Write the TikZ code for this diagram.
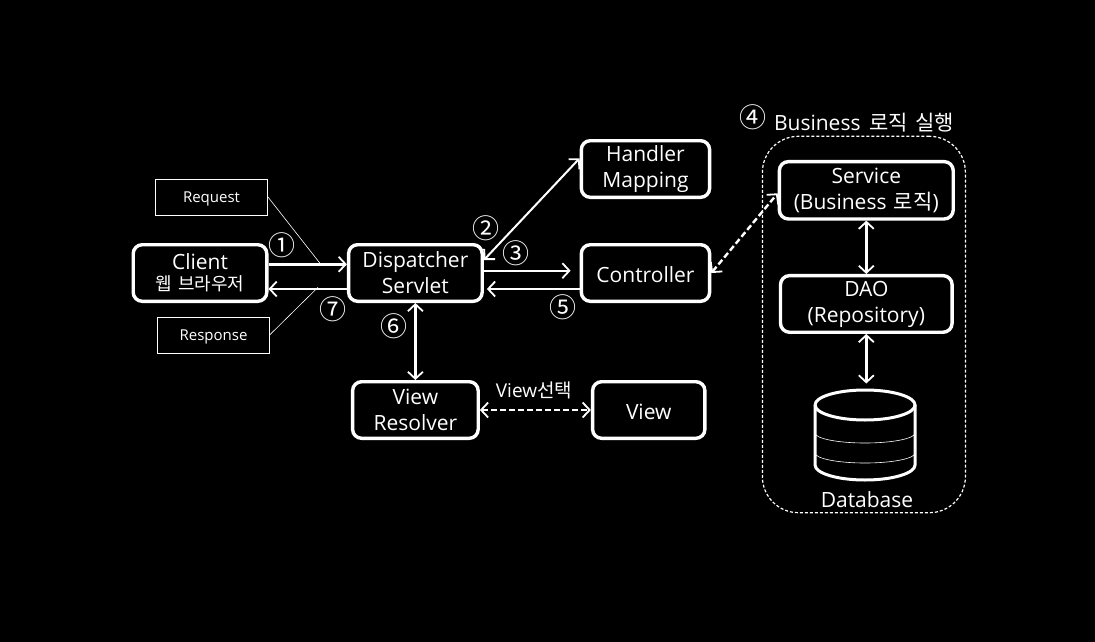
\documentclass[tikz,border=0pt]{standalone}
\usepackage{fontspec}
\setmainfont{Open Sans}
\newfontfamily\cjk{Noto Sans CJK KR}
\usetikzlibrary{positioning,arrows.meta}
\begin{document}
\begin{tikzpicture}[x=1pt,y=1pt,node distance=80pt,every node/.style={font=\fontsize{21}{26}\selectfont,text=white,align=center},
  box/.style={draw=white,line width=3.4pt,rounded corners=9pt,minimum width=133.6pt,minimum height=56.6pt,inner sep=0pt,execute at begin node={\rule{0pt}{20pt}}},
  note/.style={draw=white,line width=.6pt,minimum width=112pt,minimum height=36pt,inner sep=0pt,font=\fontsize{15}{17}\selectfont,execute at begin node={\rule{0pt}{15pt}}},
  num/.style={inner sep=0pt,font=\cjk\fontsize{27}{27}\selectfont},
  link/.style={draw=white,line width=2.4pt,-{Straight Barb[length=7pt,width=15pt,line width=1.8pt]}},
  both/.style={link,{Straight Barb[length=7pt,width=15pt,line width=1.8pt]}-{Straight Barb[length=7pt,width=15pt,line width=1.8pt]}},
  dashline/.style={dash pattern=on 6pt off 3pt},
  dbline/.style={draw=white,line width=3pt},
  thinline/.style={draw=white,line width=.6pt}]
        \fill[black] (0,0) rectangle (1095,-642);
        \useasboundingbox (0,0) rectangle (1095,-642);
        \node[box] (client) at (200,-273) {Client\\[-5pt]{\cjk\fontsize{18}{18}\selectfont 웹\hspace{2pt} 브라우저}};
        \node[box,right=78.4pt of client] (disp) {Dispatcher\\Servlet};
        \node[box,minimum width=128.3pt,right=95.7pt of disp] (ctrl) {Controller};
        \node[box,minimum width=128.3pt,above=44pt of ctrl] (handler) {Handler\\Mapping};
        \node[box,minimum width=125.6pt,below=77pt of disp] (resolver) {View\\Resolver};
        \node[box,minimum width=112.3pt,right=111pt of resolver] (view) {View};
        \node[draw=white,line width=1.2pt,dash pattern=on 3pt off 2pt,rounded corners=36pt,minimum width=203pt,minimum height=376.4pt] (group) at (863.9,-324.5) {};
        \node[box,minimum width=173.9pt,minimum height=57.3pt] (service) at (866.3,-190.3) {Service\\(Business\hspace{2pt} {\cjk 로직})};
        \node[box,minimum width=171.6pt,below=53.3pt of service] (dao) {DAO\\(Repository)};
        \node[minimum width=100pt,minimum height=90pt,inner sep=0pt,outer sep=0pt] (db) at (865,-435.5) {};
        \node (dblabel) at (867,-499.5) {Database};
        \node[note] (request) at (211.5,-196.8) {Request};
        \node[note] (response) at (213.5,-334.8) {Response};
        \node[num] (n1) at (282,-245) {①};
        \node[num] (n2) at (486,-228) {②};
        \node[num] (n3) at (516,-253) {③};
        \node[num] (n4) at (753,-117) {④};
        \node[num] (n5) at (563,-307) {⑤};
        \node[num] (n6) at (394,-326) {⑥};
        \node[num] (n7) at (333,-309) {⑦};
        \node (title) at (864,-122.5) {Business\hspace{3pt} {\cjk 로직\hspace{3pt} 실행}};
        \node[font=\fontsize{19}{20}\selectfont] (pick) at (534,-390) {View{\cjk 선택}};
        \coordinate (reqend) at (320,-263.3);
        \coordinate (resend) at (318,-287.3);
        \draw[link] ([yshift=8.7pt]client.east) -- ([yshift=8.7pt]disp.west);
        \draw[link] ([yshift=-16pt]disp.west) -- ([yshift=-16pt]client.east);
        \draw[thinline] (request.east) -- (reqend);
        \draw[thinline] (response.east) -- (resend);
        \draw[both,line width=2pt] ([yshift=13pt]disp.east) -- ([yshift=10.7pt]handler.west);
        \draw[link,shorten >=9pt] ([yshift=2.3pt]disp.east) -- ([yshift=2.3pt]ctrl.west);
        \draw[link,shorten >=3pt] ([yshift=-16pt]ctrl.west) -- ([yshift=-16pt]disp.east);
        \draw[both,dashline] (ctrl.east) -- ([yshift=-3pt]service.west);
        \draw[both] (disp.south) -- (resolver.north);
        \draw[both,dashline] (resolver.east) -- (view.west);
        \draw[both] (service.south) -- (dao.north);
        \draw[both,shorten >=7pt] (dao.south) -- (dao.south |- db.north);
        \draw[dbline] (815,-405) arc[start angle=180,end angle=-180,x radius=50,y radius=15];
        \draw[dbline] (815,-405) -- (815,-465) arc[start angle=180,end angle=360,x radius=50,y radius=15] -- (915,-405);
        \draw[thinline] (815,-433) arc[start angle=180,end angle=360,x radius=50,y radius=10];
        \draw[thinline] (815,-453) arc[start angle=180,end angle=360,x radius=50,y radius=10];
      \end{tikzpicture}
\end{document}
